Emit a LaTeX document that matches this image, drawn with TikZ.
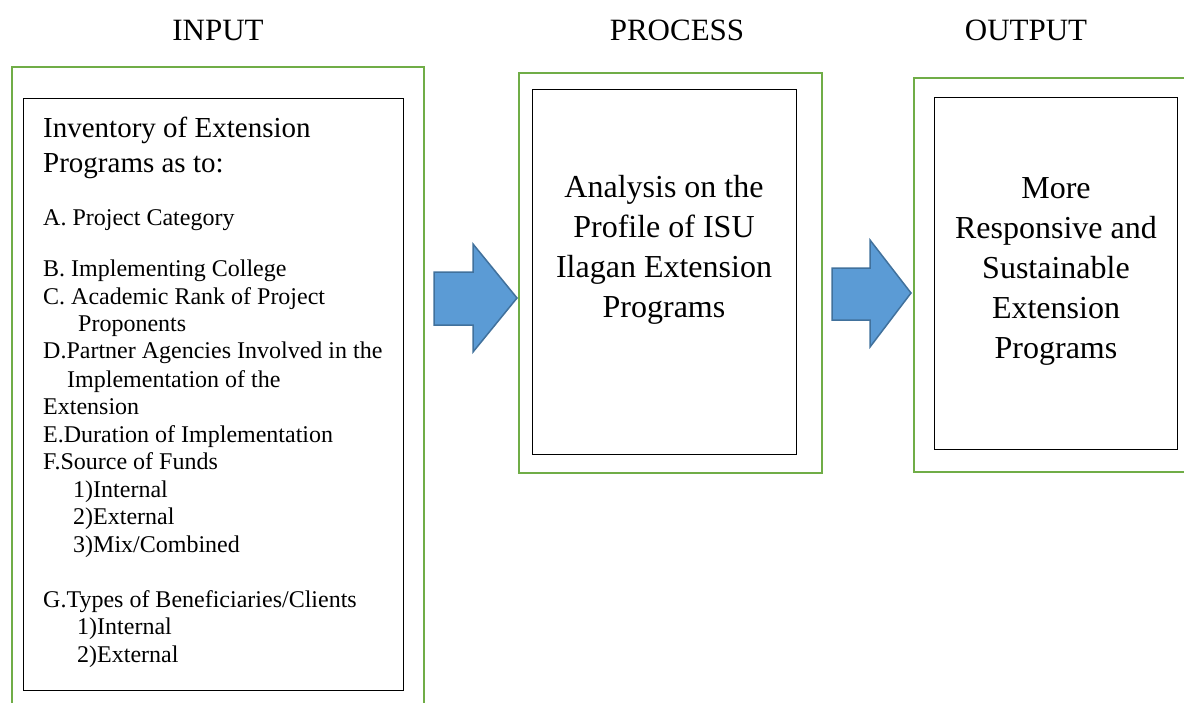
\documentclass[tikz,border=0pt]{standalone}
\usepackage{fontspec}
\setmainfont{Liberation Serif}
\definecolor{framegreen}{RGB}{112,173,71}
\definecolor{arrowblue}{RGB}{91,155,213}
\definecolor{arrowedge}{RGB}{65,113,156}

\begin{document}
\begin{tikzpicture}[x=1pt, y=-1pt,
        heading/.style={anchor=base, inner sep=0pt, font=\fontsize{31}{37}\selectfont},
        lead/.style={anchor=base west, inner sep=0pt, font=\fontsize{29}{36}\selectfont},
        item/.style={anchor=base west, inner sep=0pt, font=\fontsize{24}{28}\selectfont},
        body/.style={align=center, inner sep=0pt, font=\fontsize{32}{40}\selectfont},
        frame/.style={draw=framegreen, line width=2.5pt},
        box/.style={draw=black, line width=1pt},
        bigarrow/.style={fill=arrowblue, draw=arrowedge, line width=1.5pt, line join=miter}]
        \useasboundingbox (0,0) rectangle (1184,702);
        % headings
        \node[heading] (input) at (218,40) {INPUT};
        \node[heading] (process) at (677,40) {PROCESS};
        \node[heading] (output) at (1026,40) {OUTPUT};
        % green frames and inner boxes
        \draw[frame] (12,67) rectangle (424,720);
        \draw[box] (23,98) rectangle (403,690);
        \draw[frame] (519,73) rectangle (822,473);
        \draw[box] (532,89) rectangle (796,454);
        \draw[frame] (914,78) rectangle (1195,472);
        \draw[box] (934,97) rectangle (1177,449);
        % input list
        \node[lead] (inv1) at (43,137) {Inventory of Extension};
        \node[lead] (inv2) at (43,172) {Programs as to:};
        \node[item] (a) at (43,225) {A. Project Category};
        \node[item] (b) at (43,276) {B. Implementing College};
        \node[item] (c1) at (43,304) {C. Academic Rank of Project};
        \node[item] (c2) at (78,331) {Proponents};
        \node[item] (d1) at (43,358) {D.Partner Agencies Involved in the};
        \node[item] (d2) at (67,387) {Implementation of the};
        \node[item] (d3) at (43,414) {Extension};
        \node[item] (e) at (43,442) {E.Duration of Implementation};
        \node[item] (f) at (43,469) {F.Source of Funds};
        \node[item] (f1) at (73,497) {1)Internal};
        \node[item] (f2) at (73,524) {2)External};
        \node[item] (f3) at (73,552) {3)Mix/Combined};
        \node[item] (g) at (43,607) {G.Types of Beneficiaries/Clients};
        \node[item] (g1) at (77,634) {1)Internal};
        \node[item] (g2) at (77,662) {2)External};
        % process and output
        \node[body] (analysis) at (664,250) {Analysis on the\\Profile of ISU\\Ilagan Extension\\Programs};
        \node[body] (result) at (1056,271) {More\\Responsive and\\Sustainable\\Extension\\Programs};
        % block arrows
        \filldraw[bigarrow] (434,272) -- (473,272) -- (473,244) -- (517,298)
            -- (473,352) -- (473,325) -- (434,325) -- cycle;
        \filldraw[bigarrow] (832,268) -- (870,268) -- (870,240) -- (911,293)
            -- (870,347) -- (870,320) -- (832,320) -- cycle;
    \end{tikzpicture}
\end{document}
